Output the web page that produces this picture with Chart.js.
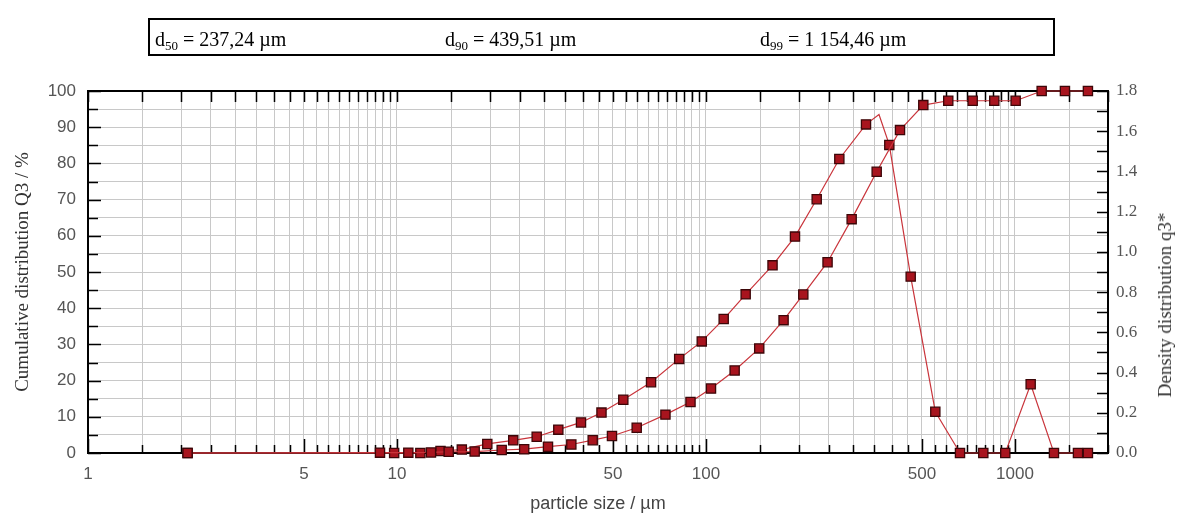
<!DOCTYPE html>
<html><head><meta charset="utf-8">
<script src="https://cdn.jsdelivr.net/npm/chart.js@4.4.0/dist/chart.umd.min.js"></script>
<style>
html,body{margin:0;padding:0;background:#fff;}
#wrap{position:relative;width:1177px;height:515px;overflow:hidden;background:#fff;}
#c{position:absolute;left:0;top:0;}
#box{position:absolute;left:148px;top:18px;width:903px;height:34px;border:2px solid #000;}
.stat{position:absolute;top:29px;font-family:'Liberation Serif','Times New Roman',serif;font-size:20px;line-height:20px;color:#000;white-space:nowrap;}
.stat sub{font-size:13px;vertical-align:-4px;line-height:0;}
#rtitle{position:absolute;left:1165px;top:305px;transform:translate(-50%,-50%) rotate(-90deg);font-family:'Liberation Serif','Times New Roman',serif;font-size:19px;color:#333;white-space:nowrap;}
</style></head><body>
<div id="wrap">
<canvas id="c" width="1177" height="515"></canvas>
<div id="box"></div>
<div id="rtitle">Density distribution q3*</div>
</div>
<script>
// ---- data ----
const statNames = ['50', '90', '99'];
const statValues = ['237,24', '439,51', '1 154,46'];

const cumSize = [2.10, 8.81, 10.88, 12.88, 14.70, 17.84, 21.82, 25.80, 30.81, 36.66, 42.99, 49.63, 59.67, 73.93, 89.1, 103.8, 123.8, 148.7, 178.3, 206.5, 247.4, 296.1, 356.8, 424.5, 505, 608.2, 729.6, 857.1, 1005, 1220, 1451, 1722];
const cumQ3 = [0, 0.1, 0.1, 0.15, 0.35, 0.4, 0.83, 1.05, 1.74, 2.35, 3.54, 4.70, 6.99, 10.6, 14.1, 17.8, 22.8, 28.9, 36.7, 43.8, 52.7, 64.6, 77.7, 89.2, 96.1, 97.3, 97.3, 97.3, 97.3, 100, 100, 100];

const densSize = [2.10, 9.79, 11.90, 13.83, 16.21, 19.60, 23.78, 28.32, 33.27, 39.40, 45.90, 54.0, 66.4, 81.9, 96.9, 114.1, 134.4, 164.2, 194.1, 228.2, 270.1, 329.5, 392.0, 459.7, 552.3, 663.8, 789.7, 930.2, 1124, 1337, 1599, 1722];
const densQ3 = [0, 0, 0, 0.01, 0.017, 0.045, 0.063, 0.081, 0.116, 0.152, 0.201, 0.265, 0.352, 0.468, 0.555, 0.666, 0.789, 0.933, 1.076, 1.262, 1.462, 1.634, 1.532, 0.877, 0.205, 0, 0, 0, 0.342, 0, 0, 0];
// unmarked vertex of the density line (its drawn peak)
const densPeakSize = 363;
const densPeakValue = 1.683;

const xLabelVals = [1, 5, 10, 50, 100, 500, 1000];
const yLabelVals = [0, 10, 20, 30, 40, 50, 60, 70, 80, 90, 100];
const y2LabelVals = [0.0, 0.2, 0.4, 0.6, 0.8, 1.0, 1.2, 1.4, 1.6, 1.8];

// ---- header box text ----
const statLeft = [155, 445, 760];
const wrap = document.getElementById('wrap');
statNames.forEach((n, i) => {
  const d = document.createElement('div');
  d.className = 'stat';
  d.style.left = statLeft[i] + 'px';
  d.innerHTML = 'd<sub>' + n + '</sub> = ' + statValues[i] + ' µm';
  wrap.appendChild(d);
});

// ---- grid positions on the log axis (half steps of each decade) ----
const xGridVals = [];
for (let k = 0; k < 4; k++) {
  const base = Math.pow(10, k);
  for (let m = 2; m <= 19; m++) {
    const v = m * base / 2;
    if (v <= 2000) xGridVals.push(v);
  }
}

const cumData = cumSize.map((s, i) => ({x: s, y: cumQ3[i]}));
const densData = densSize.map((s, i) => ({x: s, y: densQ3[i]}));
densData.push({x: densPeakSize, y: densPeakValue, vertex: true});
densData.sort((a, b) => a.x - b.x);

const LINE = '#c9343b';
const FILL = '#a8141e';
const EDGE = '#3c0608';
const GRID = '#c8c8c8';
const sans = "'Liberation Sans', Arial, sans-serif";
const serif = "'Liberation Serif', 'Times New Roman', serif";

const axisDecor = {
  id: 'axisDecor',
  beforeDatasetsDraw(chart) {
    const {ctx, chartArea: a, scales} = chart;
    ctx.save();
    ctx.strokeStyle = '#000';
    ctx.lineWidth = 1.5;
    ctx.beginPath();
    scales.y.ticks.forEach(t => {
      const y = Math.round(scales.y.getPixelForValue(t.value)) + 0.5;
      const len = yLabelVals.includes(t.value) ? 13 : 10;
      ctx.moveTo(a.left, y); ctx.lineTo(a.left + len, y);
    });
    scales.y2.ticks.forEach(t => {
      const y = Math.round(scales.y2.getPixelForValue(t.value)) + 0.5;
      ctx.moveTo(a.right, y); ctx.lineTo(a.right - 11, y);
    });
    scales.x.ticks.forEach(t => {
      const x = Math.round(scales.x.getPixelForValue(t.value)) + 0.5;
      const lab = xLabelVals.includes(t.value);
      ctx.moveTo(x, a.bottom); ctx.lineTo(x, a.bottom - (lab ? 14 : 8));
      ctx.moveTo(x, a.top); ctx.lineTo(x, a.top + 11);
    });
    ctx.stroke();
    ctx.lineWidth = 2;
    ctx.strokeRect(a.left, a.top, a.right - a.left, a.bottom - a.top);
    ctx.restore();
  }
};

new Chart(document.getElementById('c'), {
  type: 'line',
  data: {
    datasets: [
      {
        label: 'Q3', data: cumData, yAxisID: 'y', xAxisID: 'x',
        borderColor: LINE, borderWidth: 1.2, tension: 0, clip: false,
        pointStyle: 'rect', pointRadius: 6.5, pointBackgroundColor: FILL,
        pointBorderColor: EDGE, pointBorderWidth: 1.3
      },
      {
        label: 'q3', data: densData, yAxisID: 'y2', xAxisID: 'x',
        borderColor: LINE, borderWidth: 1.2, tension: 0, clip: false,
        pointStyle: 'rect',
        pointRadius: c => (c.raw && c.raw.vertex) ? 0 : 6.5,
        pointBackgroundColor: FILL, pointBorderColor: EDGE, pointBorderWidth: 1.3
      }
    ]
  },
  options: {
    responsive: false, animation: false, devicePixelRatio: 1,
    layout: {padding: {top: 91, left: 0, right: 0, bottom: 0}},
    plugins: {legend: {display: false}, tooltip: {enabled: false}},
    scales: {
      x: {
        type: 'logarithmic', position: 'bottom', min: 1, max: 2000,
        afterBuildTicks: s => { s.ticks = xGridVals.map(v => ({value: v})); },
        afterFit: s => { s.height = 62; },
        grid: {color: GRID, lineWidth: 1, drawTicks: false},
        border: {display: false},
        ticks: {
          autoSkip: false, maxRotation: 0, minRotation: 0, padding: 11,
          color: '#555', font: {family: sans, size: 17},
          callback: v => xLabelVals.includes(v) ? String(v) : ''
        },
        title: {display: true, text: 'particle size / µm', color: '#444',
          font: {family: sans, size: 18}, padding: {top: 0, bottom: 0}}
      },
      y: {
        type: 'linear', position: 'left', min: 0, max: 100,
        afterFit: s => { s.width = 88; },
        grid: {color: GRID, lineWidth: 1, drawTicks: false},
        border: {display: false},
        ticks: {
          stepSize: 5, autoSkip: false, padding: 12,
          color: '#555', font: {family: sans, size: 17},
          callback: v => yLabelVals.includes(v) ? String(v) : ''
        },
        title: {display: true, text: 'Cumulative distribution Q3 / %', color: '#333',
          font: {family: serif, size: 19}, padding: {top: 12, bottom: 0}}
      },
      y2: {
        type: 'linear', position: 'right', min: 0, max: 1.8,
        afterFit: s => { s.width = 69; },
        grid: {drawOnChartArea: false, drawTicks: false},
        border: {display: false},
        ticks: {
          stepSize: 0.1, autoSkip: false, padding: 8,
          color: '#555', font: {family: serif, size: 17},
          callback: v => y2LabelVals.some(l => Math.abs(l - v) < 1e-6) ? v.toFixed(1) : ''
        }
      }
    }
  },
  plugins: [axisDecor]
});
</script>
</body></html>
